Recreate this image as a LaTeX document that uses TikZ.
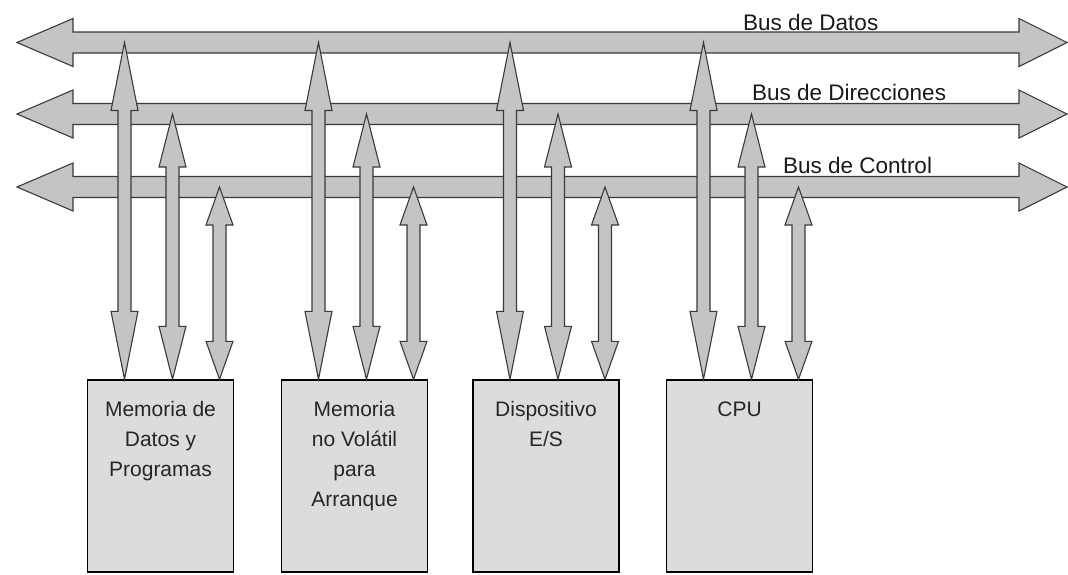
\documentclass[tikz,border=0pt]{standalone}
\usepackage{fontspec}
\setmainfont{Liberation Sans}
\usetikzlibrary{calc,positioning}
\definecolor{busgray}{HTML}{C4C4C4}
\definecolor{boxgray}{HTML}{DCDCDC}
\definecolor{edge}{HTML}{3A3A3A}

\tikzset{
  flecha/.style={fill=busgray,draw=edge,line width=1.1pt,line join=miter},
  modulo/.style={draw=black,fill=boxgray,line width=1.4pt,minimum width=146pt,minimum height=192pt,inner sep=0pt},
  rotulo/.style={font=\fontsize{21}{30}\selectfont,align=center,anchor=north,inner sep=0pt,text=black!85},
  buslabel/.style={font=\fontsize{22.5}{27}\selectfont,anchor=base west,inner sep=0pt,text=black!90}
}

% wide horizontal bus, heads at both ends
\newcommand{\busline}[2]{%
  \draw[flecha] let \p1=(#1), \p2=(#2) in
    (\x1,\y1) -- (\x1+56pt,\y1+24pt) -- (\x1+56pt,\y1+10.5pt) -- (\x2-48pt,\y1+10.5pt)
    -- (\x2-48pt,\y1+24pt) -- (\x2,\y1) -- (\x2-48pt,\y1-24pt) -- (\x2-48pt,\y1-10.5pt)
    -- (\x1+56pt,\y1-10.5pt) -- (\x1+56pt,\y1-24pt) -- cycle;}

% vertical two-way link: #1 foot on the module, #2 bus, #3 head length
\newcommand{\enlace}[3]{%
  \draw[flecha] let \p1=(#1), \p2=(#2) in
    (\x1,\y2) -- (\x1+13.5pt,\y2-#3) -- (\x1+6.5pt,\y2-#3) -- (\x1+6.5pt,\y1+#3)
    -- (\x1+13.5pt,\y1+#3) -- (\x1,\y1) -- (\x1-13.5pt,\y1+#3) -- (\x1-6.5pt,\y1+#3)
    -- (\x1-6.5pt,\y2-#3) -- (\x1-13.5pt,\y2-#3) -- cycle;}

\begin{document}
\begin{tikzpicture}[x=1pt,y=-1pt]
  \useasboundingbox (0,0) rectangle (1068,574);

  % buses
  \coordinate (datosW) at (17,42.5);   \coordinate (datosE) at (1067,42.5);
  \coordinate (direcW) at (17,114);    \coordinate (direcE) at (1067,114);
  \coordinate (controlW) at (17,187);  \coordinate (controlE) at (1067,187);
  \busline{datosW}{datosE}
  \busline{direcW}{direcE}
  \busline{controlW}{controlE}
  \node[buslabel] (lbldatos) at (743,30) {Bus de Datos};
  \node[buslabel] (lbldirec) at (752,100) {Bus de Direcciones};
  \node[buslabel] (lblcontrol) at (783,173) {Bus de Control};

  % modules
  \node[modulo] (mem) at (160.5,476) {};
  \node[modulo] (nvol) at (354.5,476) {};
  \node[modulo] (es) at (546,476) {};
  \node[modulo] (cpu) at (739.5,476) {};
  \node[rotulo] (memtxt) at ($(mem.north)+(0,22)$) {Memoria de\\Datos y\\Programas};
  \node[rotulo] (nvoltxt) at ($(nvol.north)+(0,22)$) {Memoria\\no Volátil\\para\\Arranque};
  \node[rotulo] (estxt) at ($(es.north)+(0,22)$) {Dispositivo\\E/S};
  \node[rotulo] (cputxt) at ($(cpu.north)+(0,22)$) {CPU};

  % links from every module to the three buses
  \foreach \m in {mem,nvol,es,cpu} {
    \enlace{$(\m.north)+(-36,0)$}{datosW}{68pt}
    \enlace{$(\m.north)+(12,0)$}{direcW}{53pt}
    \enlace{$(\m.north)+(59,0)$}{controlW}{38pt}
  }
\end{tikzpicture}
\end{document}
